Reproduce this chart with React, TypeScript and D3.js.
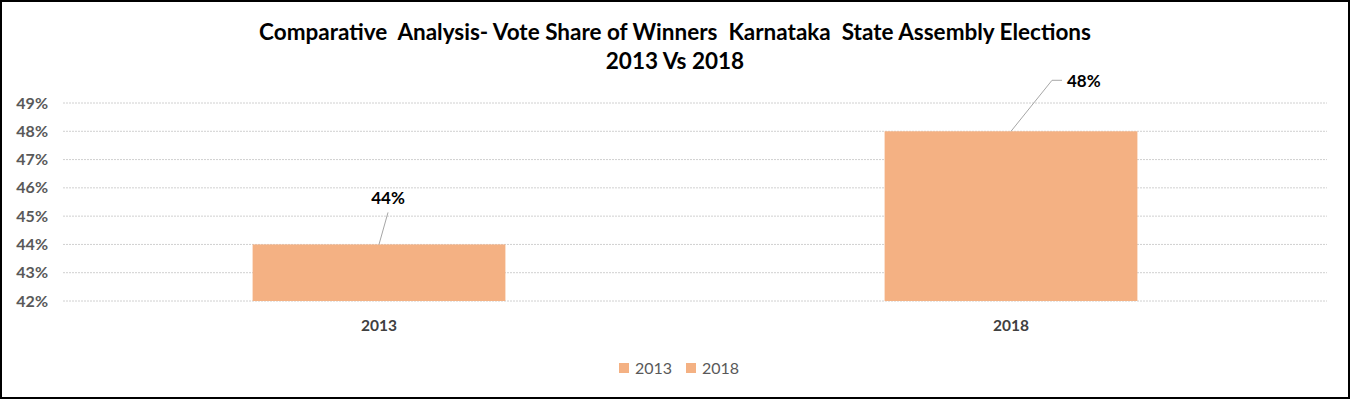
import React from "react";
import { scaleBand, scaleLinear } from "d3";

const years = ["2013", "2018"];
const voteShare = [44, 48];
const yTicks = [42, 43, 44, 45, 46, 47, 48, 49];
const titleLines = [
  "Comparative  Analysis- Vote Share of Winners  Karnataka  State Assembly Elections",
  "2013 Vs 2018",
];

const W = 1350;
const H = 399;
const FONT = "Lato, 'Open Sans', sans-serif";
const BAR = "#F4B183";

const App = () => {
  const x = scaleBand().domain(years).range([63, 1327]).paddingInner(0.6).paddingOuter(0.3);
  const y = scaleLinear().domain([42, 49]).range([301, 103]);

  // leader offsets for data labels (like excel's moved labels)
  const labelPos = [
    { dx: 9, top: y(44) - 32, elbow: 0 },
    { dx: 41, top: y(48) - 51, elbow: 10 },
  ];

  return (
    <div style={{ position: "fixed", left: 0, top: 0 }}>
      <svg width={W} height={H} style={{ display: "block", background: "#fff" }}>
        <rect x={1} y={1} width={W - 2} height={H - 2} fill="#fff" stroke="#000" strokeWidth={2} />
        {titleLines.map((t, i) => (
          <text
            key={i}
            x={675}
            y={40 + i * 29}
            textAnchor="middle"
            fontFamily={FONT}
            fontWeight="bold"
            fontSize={22.5}
            fill="#000"
            style={{ whiteSpace: "pre" }}
          >
            {t}
          </text>
        ))}
        {yTicks.map((t) => (
          <g key={t}>
            <line x1={63} x2={1327} y1={y(t)} y2={y(t)} stroke="#d0d0d0" strokeWidth={1} strokeDasharray="2,1" />
            <text x={48} y={y(t) + 5.5} textAnchor="end" fontFamily={FONT} fontWeight="bold" fontSize={16} fill="#595959">
              {t}%
            </text>
          </g>
        ))}
        {years.map((yr, i) => {
          const bx = x(yr)!;
          const cx = bx + x.bandwidth() / 2;
          const lp = labelPos[i];
          const lx = cx + lp.dx;
          return (
            <g key={yr}>
              <rect x={bx} y={y(voteShare[i])} width={x.bandwidth()} height={y(42) - y(voteShare[i])} fill={BAR} />
              <polyline
                points={`${cx},${y(voteShare[i])} ${lx},${lp.top} ${lx + lp.elbow},${lp.top}`}
                fill="none"
                stroke="#a6a6a6"
                strokeWidth={1}
              />
              <text
                x={lp.elbow ? lx + lp.elbow + 5 : lx}
                y={lp.elbow ? lp.top + 7 : lp.top - 8}
                textAnchor={lp.elbow ? "start" : "middle"}
                fontFamily={FONT}
                fontWeight="bold"
                fontSize={17}
                fill="#000"
              >
                {voteShare[i]}%
              </text>
              <text x={cx} y={331} textAnchor="middle" fontFamily={FONT} fontWeight="bold" fontSize={15.5} fill="#404040">
                {yr}
              </text>
            </g>
          );
        })}
        {years.map((yr, i) => (
          <g key={"lg" + yr} transform={`translate(${619 + i * 67},363)`}>
            <rect width={10} height={10} fill={BAR} />
            <text x={16} y={10.5} fontFamily={FONT} fontSize={16} fill="#595959">
              {yr}
            </text>
          </g>
        ))}
      </svg>
    </div>
  );
};

export default App;
